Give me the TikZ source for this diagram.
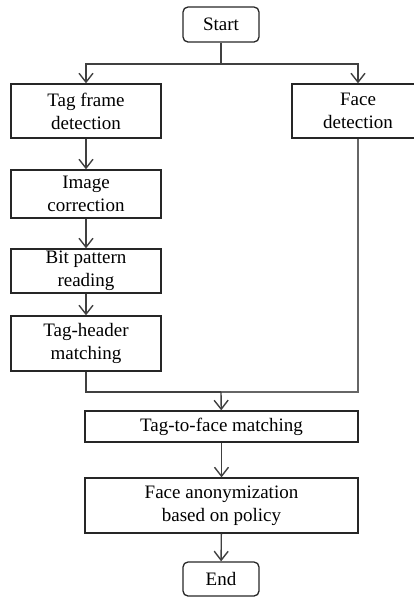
\documentclass[tikz,border=0pt]{standalone}
\usepackage{fontspec}
\setmainfont{Liberation Serif}
\usetikzlibrary{arrows.meta}
\tikzset{procbox/.style={
        draw=black!85, line width=1.3pt, align=center, inner sep=0pt,
        font=\fontsize{19}{23}\selectfont
    },
    termbox/.style={
        procbox, rounded corners=5pt, minimum width=76pt
    },
    flow/.style={
        draw=black!75, line width=1.4pt
    }
}

\begin{document}
\begin{tikzpicture}[x=1pt,y=-1pt,>={Straight Barb[length=9pt,width=14pt]}]
        \useasboundingbox (0,0) rectangle (414,598);
        % start and the two branches
        \node[termbox, minimum height=35pt] (start) at (221,24.5) {Start};
        \coordinate (split) at (221,64);
        \node[procbox, minimum width=150pt, minimum height=54pt] (tagframe) at (86,111) {Tag frame\\detection};
        \node[procbox, minimum width=132pt, minimum height=54pt] (face) at (358,111) {Face\\detection};
        % tag branch
        \node[procbox, minimum width=150pt, minimum height=48pt] (imgcorr) at (86,194) {Image\\correction};
        \node[procbox, minimum width=150pt, minimum height=44pt] (bitread) at (86,271) {Bit pattern\\reading};
        \node[procbox, minimum width=150pt, minimum height=55pt] (tagheader) at (86,343.5) {Tag-header\\matching};
        % merge and end
        \coordinate (merge) at (221,392);
        \node[procbox, minimum width=273pt, minimum height=31pt] (tagface) at (221.5,426.5) {Tag-to-face matching};
        \node[procbox, minimum width=273pt, minimum height=55pt] (anon) at (221.5,505.5) {Face anonymization\\based on policy};
        \node[termbox, minimum height=34pt] (end) at (221,579) {End};

        \draw[flow] (start) -- (split);
        \draw[flow,->] (split) -| (tagframe);
        \draw[flow,->] (split) -| (face);
        \draw[flow,->] (tagframe) -- (imgcorr);
        \draw[flow,->] (imgcorr) -- (bitread);
        \draw[flow,->] (bitread) -- (tagheader);
        \draw[flow] (tagheader.south) |- (merge);
        \draw[flow,draw=black!60] (face.south) |- (merge);
        \draw[flow,->] (merge) -- (tagface);
        \draw[flow,->] (tagface) -- (anon);
        \draw[flow,->] (anon) -- (end);
    \end{tikzpicture}
\end{document}
